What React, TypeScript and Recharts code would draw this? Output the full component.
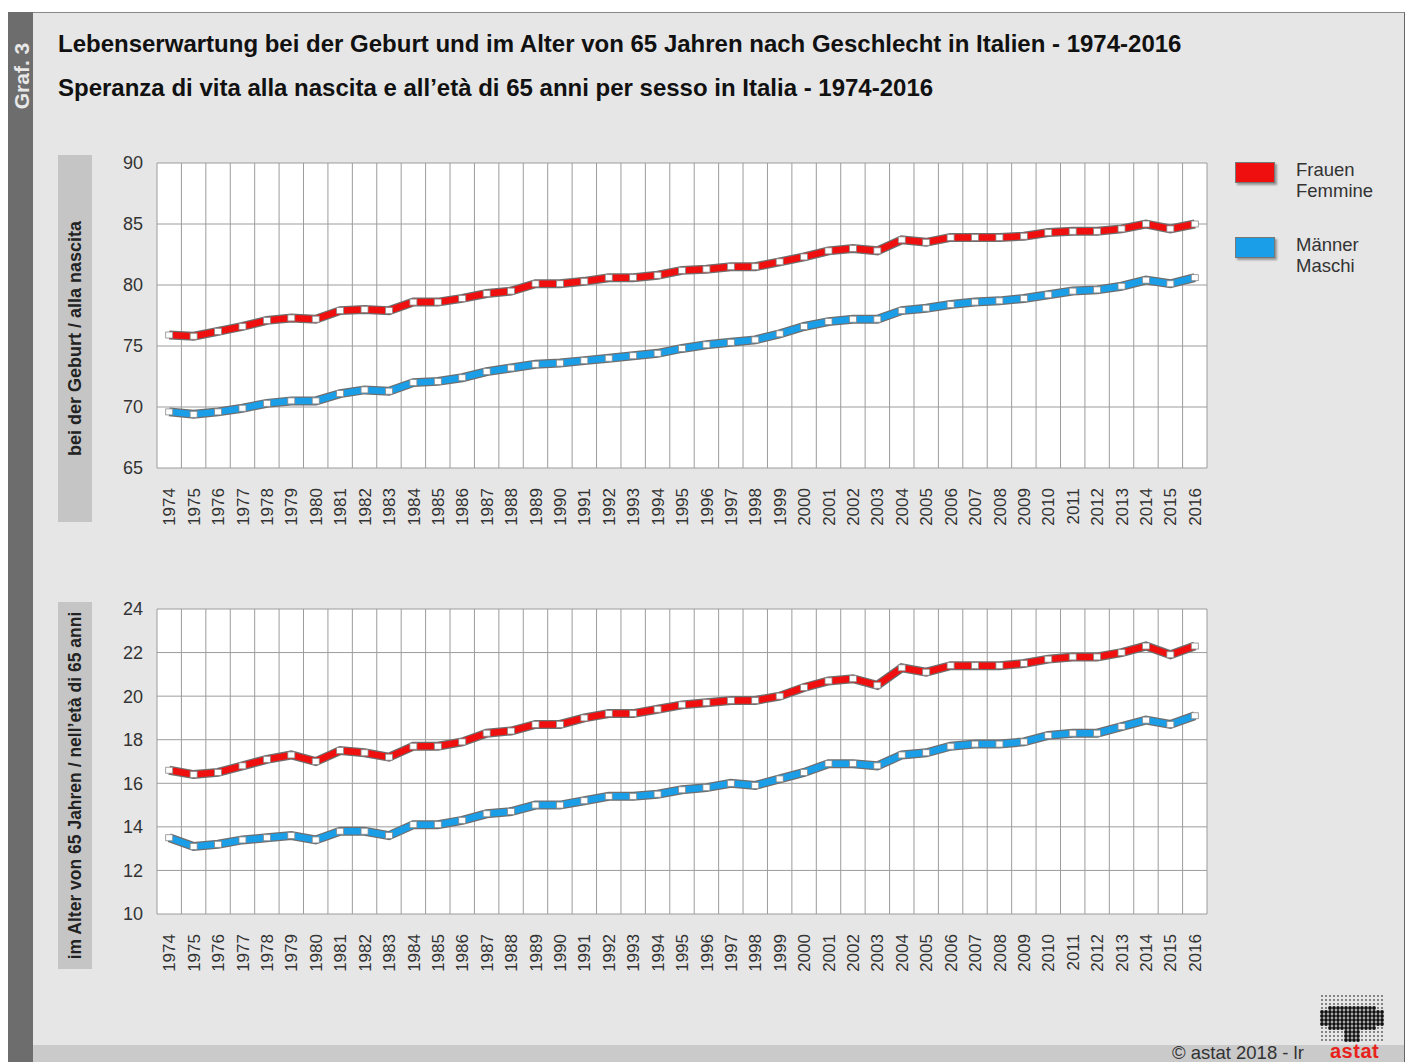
import React from 'react';
import { LineChart, Line, XAxis, YAxis, CartesianGrid } from 'recharts';

const years = [
  1974, 1975, 1976, 1977, 1978, 1979, 1980, 1981, 1982, 1983, 1984, 1985, 1986, 1987, 1988,
  1989, 1990, 1991, 1992, 1993, 1994, 1995, 1996, 1997, 1998, 1999, 2000, 2001, 2002, 2003,
  2004, 2005, 2006, 2007, 2008, 2009, 2010, 2011, 2012, 2013, 2014, 2015, 2016,
];

// Life expectancy at birth
const femaleBirth = [
  75.9, 75.8, 76.2, 76.6, 77.1, 77.3, 77.2, 77.9, 78.0, 77.9, 78.6, 78.6, 78.9, 79.3, 79.5,
  80.1, 80.1, 80.3, 80.6, 80.6, 80.8, 81.2, 81.3, 81.5, 81.5, 81.9, 82.3, 82.8, 83.0, 82.8,
  83.7, 83.5, 83.9, 83.9, 83.9, 84.0, 84.3, 84.4, 84.4, 84.6, 85.0, 84.6, 85.0,
];
const maleBirth = [
  69.6, 69.4, 69.6, 69.9, 70.3, 70.5, 70.5, 71.1, 71.4, 71.3, 72.0, 72.1, 72.4, 72.9, 73.2,
  73.5, 73.6, 73.8, 74.0, 74.2, 74.4, 74.8, 75.1, 75.3, 75.5, 76.0, 76.6, 77.0, 77.2, 77.2,
  77.9, 78.1, 78.4, 78.6, 78.7, 78.9, 79.2, 79.5, 79.6, 79.9, 80.4, 80.1, 80.6,
];

// Life expectancy at age 65
const female65 = [
  16.6, 16.4, 16.5, 16.8, 17.1, 17.3, 17.0, 17.5, 17.4, 17.2, 17.7, 17.7, 17.9, 18.3, 18.4,
  18.7, 18.7, 19.0, 19.2, 19.2, 19.4, 19.6, 19.7, 19.8, 19.8, 20.0, 20.4, 20.7, 20.8, 20.5,
  21.3, 21.1, 21.4, 21.4, 21.4, 21.5, 21.7, 21.8, 21.8, 22.0, 22.3, 21.9, 22.3,
];
const male65 = [
  13.5, 13.1, 13.2, 13.4, 13.5, 13.6, 13.4, 13.8, 13.8, 13.6, 14.1, 14.1, 14.3, 14.6, 14.7,
  15.0, 15.0, 15.2, 15.4, 15.4, 15.5, 15.7, 15.8, 16.0, 15.9, 16.2, 16.5, 16.9, 16.9, 16.8,
  17.3, 17.4, 17.7, 17.8, 17.8, 17.9, 18.2, 18.3, 18.3, 18.6, 18.9, 18.7, 19.1,
];

const birthTicks = [65, 70, 75, 80, 85, 90];
const age65Ticks = [10, 12, 14, 16, 18, 20, 22, 24];

const titleDe = 'Lebenserwartung bei der Geburt und im Alter von 65 Jahren nach Geschlecht in Italien - 1974-2016';
const titleIt = 'Speranza di vita alla nascita e all\u2019età di 65 anni per sesso in Italia - 1974-2016';
const birthLabel = 'bei der Geburt / alla nascita';
const age65Label = 'im Alter von 65 Jahren / nell\u2019età di 65 anni';
const femaleLegend = ['Frauen', 'Femmine'];
const maleLegend = ['Männer', 'Maschi'];

const RED = '#f00f0f';
const BLUE = '#1a9ee8';
const FONT = '"Liberation Sans", Arial, Helvetica, sans-serif';

const birthData = years.map((y, i) => ({ year: y, f: femaleBirth[i], m: maleBirth[i] }));
const age65Data = years.map((y, i) => ({ year: y, f: female65[i], m: male65[i] }));

const YearTick = (props: any) => {
  const { x, y, payload } = props;
  const ty = y + 18;
  return (
    <text
      x={x}
      y={ty}
      transform={`rotate(-90 ${x} ${ty})`}
      textAnchor="end"
      dy="0.36em"
      fill="#333"
      fontSize={17}
      fontFamily={FONT}
    >
      {payload.value}
    </text>
  );
};

const Marker = (props: any) => {
  const { cx, cy } = props;
  if (cx == null || cy == null) return <g />;
  return (
    <rect x={cx - 3.5} y={cy - 3} width={7} height={6} fill="#ffffff" stroke="#8a8a8a" strokeWidth={0.8} />
  );
};

const bandLines = (p: any) => {
  const off = p.offset;
  const n = years.length;
  const out: number[] = [];
  for (let k = 0; k <= n; k++) out.push(off.left + (k * off.width) / n);
  return out;
};

function Panel({ data, ticks, domain, top }: { data: any[]; ticks: number[]; domain: number[]; top: number }) {
  return (
    <div style={{ position: 'absolute', left: 92, top }}>
      <LineChart width={1120} height={400} data={data} margin={{ top: 13, right: 5, left: 0, bottom: 22 }}>
        <CartesianGrid
          stroke="#9c9c9c"
          strokeWidth={1}
          fill="#ffffff"
          verticalCoordinatesGenerator={bandLines}
        />
        <XAxis
          dataKey="year"
          type="number"
          domain={[1973.5, 2016.5]}
          ticks={years}
          interval={0}
          tick={<YearTick />}
          tickLine={false}
          axisLine={false}
          tickSize={0}
          height={60}
        />
        <YAxis
          domain={domain}
          ticks={ticks}
          interval={0}
          width={65}
          tickLine={false}
          axisLine={false}
          tickSize={0}
          tickMargin={14}
          tick={{ fill: '#333', fontSize: 18, fontFamily: FONT }}
        />
        <Line dataKey="f" name="f-outline" stroke="#6e6e6e" strokeWidth={9} dot={false} activeDot={false} isAnimationActive={false} />
        <Line dataKey="f" name="Frauen" stroke={RED} strokeWidth={6.5} dot={<Marker />} activeDot={false} isAnimationActive={false} />
        <Line dataKey="m" name="m-outline" stroke="#6e6e6e" strokeWidth={9} dot={false} activeDot={false} isAnimationActive={false} />
        <Line dataKey="m" name="Männer" stroke={BLUE} strokeWidth={6.5} dot={<Marker />} activeDot={false} isAnimationActive={false} />
      </LineChart>
    </div>
  );
}

const SideLabel = ({ text, top, height, size }: { text: string; top: number; height: number; size: number }) => (
  <div style={{ position: 'absolute', left: 58, top, width: 34, height, background: '#c5c5c5' }}>
    <svg width={34} height={height}>
      <text
        x={17}
        y={height / 2}
        transform={`rotate(-90 17 ${height / 2})`}
        textAnchor="middle"
        dy="0.36em"
        fontSize={size}
        fontWeight="bold"
        fill="#222"
        fontFamily={FONT}
      >
        {text}
      </text>
    </svg>
  </div>
);

const LegendItem = ({ color, lines, top }: { color: string; lines: string[]; top: number }) => (
  <div style={{ position: 'absolute', left: 1235, top, width: 170 }}>
    <div
      style={{
        position: 'absolute',
        left: 0,
        top: 0,
        width: 40,
        height: 21,
        background: color,
        border: '1px solid #777',
        boxShadow: '2px 2px 2px rgba(0,0,0,0.35)',
        boxSizing: 'border-box',
      }}
    />
    <div style={{ position: 'absolute', left: 61, top: -3, fontSize: 18.5, lineHeight: '21px', color: '#333' }}>
      {lines.map((l) => (
        <div key={l}>{l}</div>
      ))}
    </div>
  </div>
);

const Logo = () => {
  const dots: React.ReactNode[] = [];
  for (let r = 0; r < 12; r++) {
    for (let c = 0; c < 16; c++) {
      const x = 6 + c * 4;
      const y = 3 + r * 4;
      const inShape =
        (r >= 4 && r <= 7 && c >= 0 && c <= 15) ||
        (r >= 3 && r <= 8 && c >= 2 && c <= 13) ||
        (r >= 8 && r <= 11 && c >= 6 && c <= 9);
      dots.push(
        <circle key={`${r}-${c}`} cx={x} cy={y} r={inShape ? 1.9 : 0.9} fill={inShape ? '#111' : '#555'} />
      );
    }
  }
  return (
    <svg width={72} height={52} style={{ position: 'absolute', left: 1316, top: 993 }}>
      {dots}
    </svg>
  );
};

export default function App() {
  return (
    <div
      style={{
        position: 'absolute',
        left: 0,
        top: 0,
        width: 1410,
        height: 1062,
        background: '#ffffff',
        fontFamily: FONT,
        overflow: 'hidden',
      }}
    >
      {/* card */}
      <div style={{ position: 'absolute', left: 8, top: 12, width: 1397, height: 1050, background: '#e6e6e6', borderTop: '1px solid #888', borderRight: '1px solid #666', boxSizing: 'border-box' }} />
      <div style={{ position: 'absolute', left: 8, top: 12, width: 25, height: 1050, background: '#6d6d6d' }}>
        <svg width={25} height={130}>
          <text x={13} y={64} transform="rotate(-90 13 64)" textAnchor="middle" dy="0.36em" fontSize={21} fontWeight="bold" fill="#e8e8e8" fontFamily={FONT}>
            Graf. 3
          </text>
        </svg>
      </div>
      <div style={{ position: 'absolute', left: 33, top: 1045, width: 1371, height: 17, background: '#cacaca' }} />

      {/* titles */}
      <div style={{ position: 'absolute', left: 58, top: 30, fontSize: 24, lineHeight: '28px', fontWeight: 'bold', color: '#111', whiteSpace: 'nowrap' }}>
        {titleDe}
      </div>
      <div style={{ position: 'absolute', left: 58, top: 74, fontSize: 24, lineHeight: '28px', fontWeight: 'bold', color: '#111', whiteSpace: 'nowrap' }}>
        {titleIt}
      </div>

      <SideLabel text={birthLabel} top={155} height={367} size={18} />
      <SideLabel text={age65Label} top={602} height={367} size={17.5} />

      <Panel data={birthData} ticks={birthTicks} domain={[65, 90]} top={150} />
      <Panel data={age65Data} ticks={age65Ticks} domain={[10, 24]} top={596} />

      <LegendItem color={RED} lines={femaleLegend} top={162} />
      <LegendItem color={BLUE} lines={maleLegend} top={237} />

      <Logo />
      <div style={{ position: 'absolute', left: 1172, top: 1044, fontSize: 18.5, lineHeight: '18px', color: '#333', whiteSpace: 'nowrap' }}>
        © astat 2018 - lr
      </div>
      <div style={{ position: 'absolute', left: 1330, top: 1041, fontSize: 20, lineHeight: '20px', fontWeight: 'bold', color: '#e8221b', letterSpacing: 0.5 }}>
        astat
      </div>
    </div>
  );
}
